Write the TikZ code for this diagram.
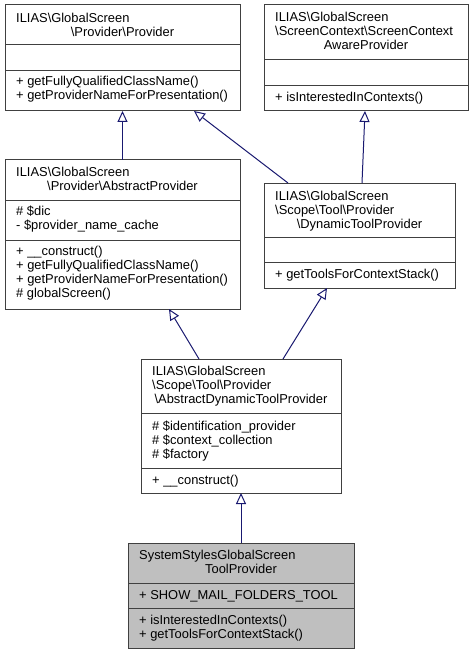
\documentclass[tikz,border=0pt]{standalone}
\usepackage{fontspec}
\setmainfont{Liberation Sans}
\usetikzlibrary{arrows.meta}
\definecolor{edgeblue}{HTML}{191970}
\definecolor{boxgray}{HTML}{404040}
\definecolor{curfill}{HTML}{BFBFBF}
\newcommand{\BSL}{\textbackslash}
\begin{document}
\begin{tikzpicture}[x=1pt,y=-1pt, font=\fontsize{12.9}{14}\selectfont,
 box/.style={draw=boxgray, line width=1pt, fill=white, inner sep=0pt, outer sep=0pt, anchor=north west},
 sepline/.style={draw=boxgray, line width=1pt},
 lt/.style={anchor=base west, inner sep=0pt},
 ct/.style={anchor=base, inner sep=0pt},
 inh/.style={draw=edgeblue, line width=1pt, -{Triangle[open, length=11pt, width=10pt, fill=white]}}]
\fill[white] (0,0) rectangle (474,655);
\useasboundingbox (0,0) rectangle (474,655);

% Box 1: Provider
\node[box, minimum width=235pt, minimum height=106pt] (b1) at (5,5) {};
\draw[sepline] (b1.west |- 0,45) -- (b1.east |- 0,45);
\draw[sepline] (b1.west |- 0,71) -- (b1.east |- 0,71);
\node[lt] (b1t1) at (16,22.5) {ILIAS\BSL GlobalScreen};
\node[ct] (b1t2) at (122.5,36.5) {\BSL Provider\BSL Provider};
\node[lt] (b1m1) at (16,86) {+ getFullyQualifiedClassName()};
\node[lt] (b1m2) at (16,100) {+ getProviderNameForPresentation()};

% Box 2: ScreenContextAwareProvider
\node[box, minimum width=204pt, minimum height=106pt] (b2) at (264,5) {};
\draw[sepline] (b2.west |- 0,60) -- (b2.east |- 0,60);
\draw[sepline] (b2.west |- 0,86) -- (b2.east |- 0,86);
\node[lt] (b2t1) at (275,22) {ILIAS\BSL GlobalScreen};
\node[lt] (b2t2) at (275,36) {\BSL ScreenContext\BSL ScreenContext};
\node[ct] (b2t3) at (366,50) {AwareProvider};
\node[lt] (b2m1) at (275,102) {+ isInterestedInContexts()};

% Box 3: AbstractProvider
\node[box, minimum width=235pt, minimum height=149pt] (b3) at (5,160) {};
\draw[sepline] (b3.west |- 0,200) -- (b3.east |- 0,200);
\draw[sepline] (b3.west |- 0,240) -- (b3.east |- 0,240);
\node[lt] (b3t1) at (16,176.5) {ILIAS\BSL GlobalScreen};
\node[ct] (b3t2) at (122.5,190.5) {\BSL Provider\BSL AbstractProvider};
\node[lt] (b3a1) at (16,215.5) {\# \$dic};
\node[lt] (b3a2) at (16,229.5) {- \$provider\_name\_cache};
\node[lt] (b3m1) at (16,255.5) {+ \_\_construct()};
\node[lt] (b3m2) at (16,269.5) {+ getFullyQualifiedClassName()};
\node[lt] (b3m3) at (16,283.5) {+ getProviderNameForPresentation()};
\node[lt] (b3m4) at (16,297.5) {\# globalScreen()};

% Box 4: DynamicToolProvider
\node[box, minimum width=191pt, minimum height=105pt] (b4) at (264,183) {};
\draw[sepline] (b4.west |- 0,237) -- (b4.east |- 0,237);
\draw[sepline] (b4.west |- 0,262) -- (b4.east |- 0,262);
\node[lt] (b4t1) at (275,200) {ILIAS\BSL GlobalScreen};
\node[lt] (b4t2) at (275,214) {\BSL Scope\BSL Tool\BSL Provider};
\node[ct] (b4t3) at (359.5,228) {\BSL DynamicToolProvider};
\node[lt] (b4m1) at (275,278.5) {+ getToolsForContextStack()};

% Box 5: AbstractDynamicToolProvider
\node[box, minimum width=200pt, minimum height=134pt] (b5) at (141,359) {};
\draw[sepline] (b5.west |- 0,413.5) -- (b5.east |- 0,413.5);
\draw[sepline] (b5.west |- 0,468) -- (b5.east |- 0,468);
\node[lt] (b5t1) at (152,375) {ILIAS\BSL GlobalScreen};
\node[lt] (b5t2) at (152,389) {\BSL Scope\BSL Tool\BSL Provider};
\node[ct] (b5t3) at (241,403) {\BSL AbstractDynamicToolProvider};
\node[lt] (b5a1) at (152,430) {\# \$identification\_provider};
\node[lt] (b5a2) at (152,444) {\# \$context\_collection};
\node[lt] (b5a3) at (152,458) {\# \$factory};
\node[lt] (b5m1) at (152,484.5) {+ \_\_construct()};

% Box 6: SystemStylesGlobalScreenToolProvider
\node[box, fill=curfill, minimum width=226pt, minimum height=105pt] (b6) at (128,543) {};
\draw[sepline] (b6.west |- 0,583) -- (b6.east |- 0,583);
\draw[sepline] (b6.west |- 0,608) -- (b6.east |- 0,608);
\node[lt] (b6t1) at (139,559) {SystemStylesGlobalScreen};
\node[ct] (b6t2) at (241,573) {ToolProvider};
\node[lt] (b6a1) at (139,599) {+ SHOW\_MAIL\_FOLDERS\_TOOL};
\node[lt] (b6m1) at (139,624.5) {+ isInterestedInContexts()};
\node[lt] (b6m2) at (139,638.5) {+ getToolsForContextStack()};

% Inheritance connectors
\draw[inh] (b3.north) -- (b1.south);
\draw[inh] ([xshift=24pt]b4.north west) -- ([xshift=-46pt]b1.south east);
\draw[inh] ([xshift=2.5pt]b4.north) -- ([xshift=-1pt]b2.south);
\draw[inh] ([xshift=58pt]b5.north west) -- ([xshift=-71pt]b3.south east);
\draw[inh] ([xshift=-58pt]b5.north east) -- ([xshift=63pt]b4.south west);
\draw[inh] (b6.north) -- (b5.south);
\end{tikzpicture}
\end{document}
